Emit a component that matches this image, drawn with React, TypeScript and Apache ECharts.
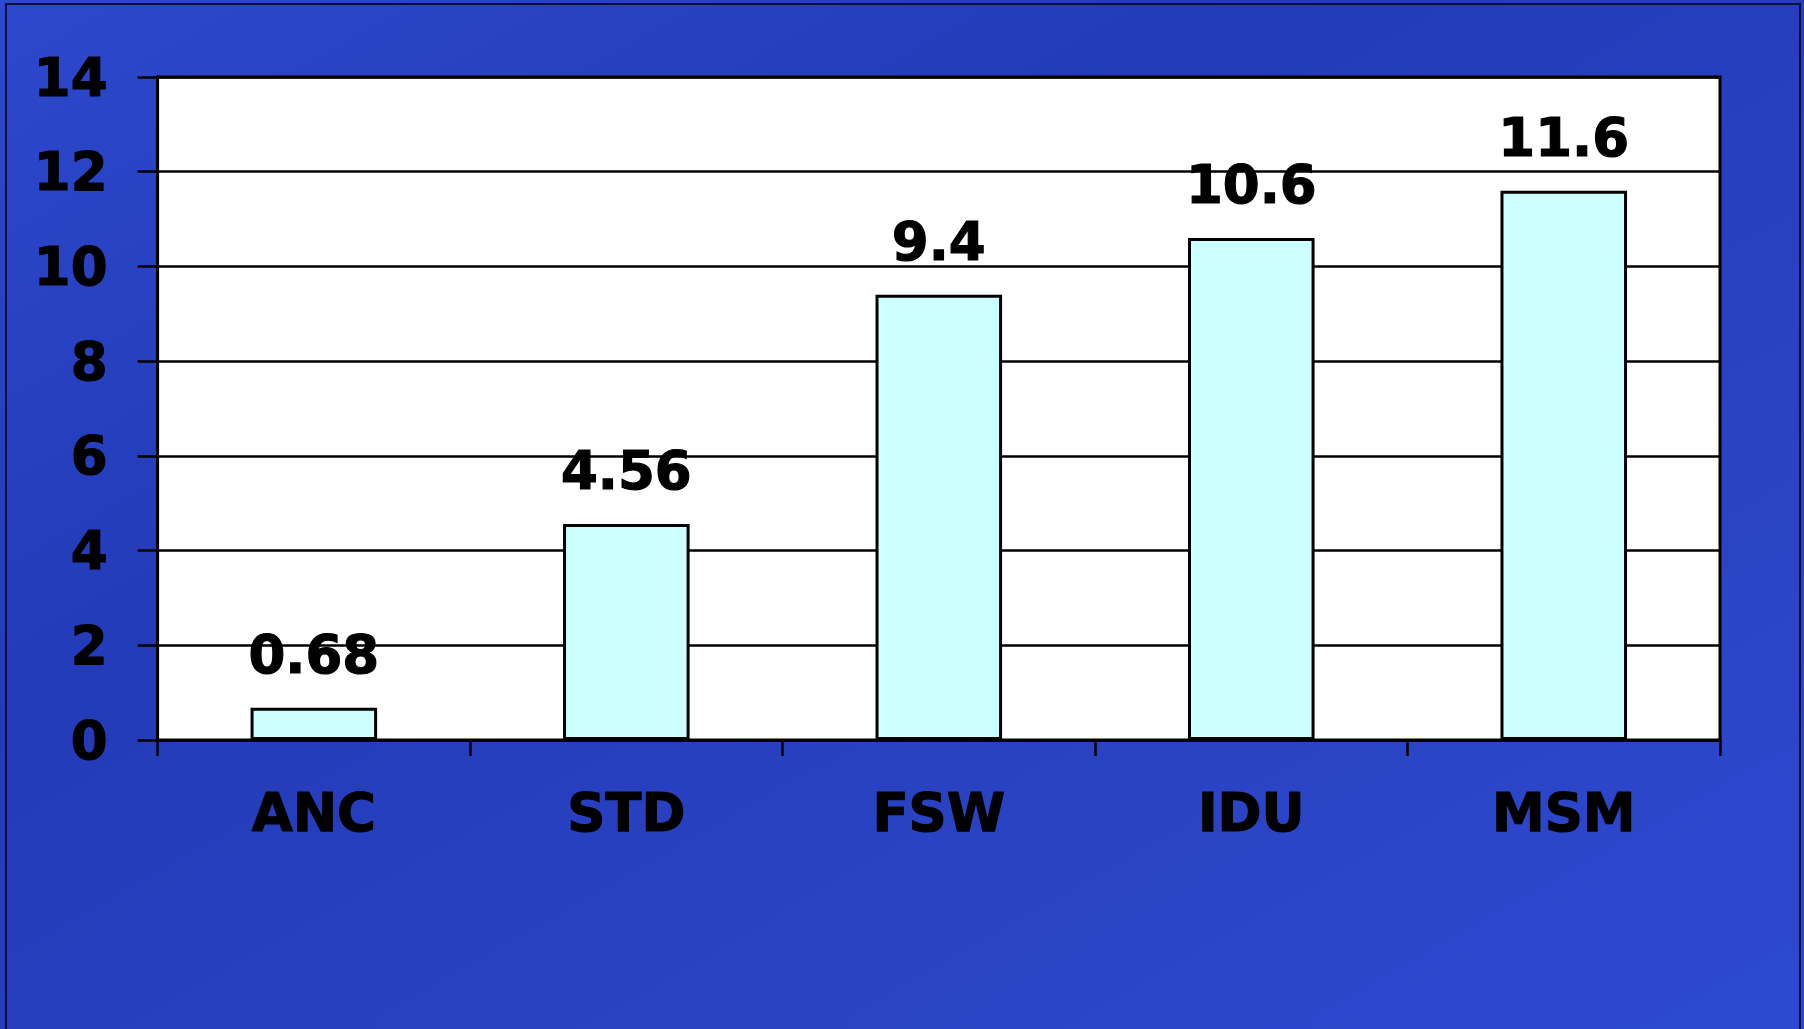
import React, { useEffect, useRef } from "react";
import * as echarts from "echarts";

const categories = ["ANC", "STD", "FSW", "IDU", "MSM"];
const values = [0.68, 4.56, 9.4, 10.6, 11.6];
const valueLabels = ["0.68", "4.56", "9.4", "10.6", "11.6"];
const yMin = 0;
const yMax = 14;
const yStep = 2;

const FONT = "DejaVu Sans";

const textStyle = {
  color: "#000",
  fontFamily: FONT,
  fontWeight: "bold",
  fontSize: 53,
  textBorderColor: "#000",
  textBorderWidth: 1.2,
};

export default function App() {
  const ref = useRef<HTMLDivElement>(null);
  useEffect(() => {
    document.body.style.margin = "0";
    const chart = echarts.init(ref.current!, null, { renderer: "svg" });
    chart.setOption({
      animation: false,
      backgroundColor: {
        type: "linear",
        x: 0,
        y: 0,
        x2: 1,
        y2: 1,
        colorStops: [
          { offset: 0, color: "#2c48cc" },
          { offset: 0.35, color: "#233bb8" },
          { offset: 0.7, color: "#2a43c4" },
          { offset: 1, color: "#2c4ad0" },
        ],
      },
      graphic: [
        {
          type: "rect",
          shape: { x: 6, y: 4, width: 1794, height: 1040 },
          style: { fill: "none", stroke: "#0b0d3a", lineWidth: 2 },
          silent: true,
        },
      ],
      grid: {
        left: 157.6,
        right: 84,
        top: 77,
        bottom: 289,
        show: true,
        backgroundColor: "#ffffff",
        borderColor: "#000000",
        borderWidth: 3,
      },
      xAxis: {
        type: "category",
        data: categories,
        boundaryGap: true,
        axisLine: { show: true, lineStyle: { color: "#000", width: 3 } },
        axisTick: { show: true, length: 16, lineStyle: { color: "#000", width: 2.5 } },
        axisLabel: { margin: 46, ...textStyle },
      },
      yAxis: {
        type: "value",
        min: yMin,
        max: yMax,
        interval: yStep,
        axisLine: { show: true, lineStyle: { color: "#000", width: 3 } },
        axisTick: { show: true, length: 20, lineStyle: { color: "#000", width: 2.5 } },
        splitLine: { show: true, lineStyle: { color: "#000", width: 2.5 } },
        axisLabel: { margin: 50, ...textStyle },
      },
      series: [
        {
          type: "bar",
          data: values,
          barWidth: "40.5%",
          itemStyle: { color: "#ccffff", borderColor: "#000", borderWidth: 3 },
          label: {
            show: true,
            position: "top",
            distance: 27,
            ...textStyle,
            formatter: (p: any) => valueLabels[p.dataIndex],
          },
        },
      ],
    });
    return () => chart.dispose();
  }, []);
  return (
    <div
      ref={ref}
      style={{ position: "fixed", left: 0, top: 0, width: 1804, height: 1029 }}
    />
  );
}
